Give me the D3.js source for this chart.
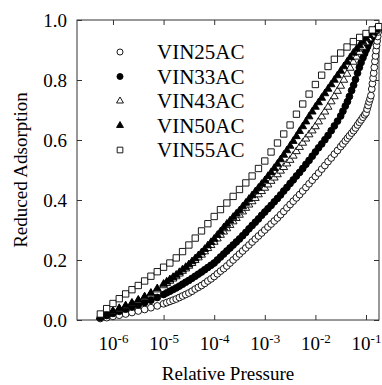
<!DOCTYPE html>
<html>
<head>
<meta charset="utf-8">
<script src="https://cdn.jsdelivr.net/npm/d3@7"></script>
<style>
	body { margin: 0; background: #fff; }
	svg { display: block; font-family: "Liberation Serif", "Times New Roman", serif; }
</style>
</head>
<body>
<svg width="382" height="385"></svg>
<script>
// relative pressure, low range (coarse) and mid range (fine) steps
const pLow = [5.62e-7, 7.5e-7, 1e-6, 1.33e-6, 1.78e-6, 2.37e-6, 3.16e-6, 4.22e-6, 5.62e-6, 7.5e-6];
const pFine = [
	1e-5, 1.155e-5, 1.334e-5, 1.54e-5, 1.778e-5, 2.054e-5, 2.371e-5, 2.738e-5,
	3.162e-5, 3.652e-5, 4.217e-5, 4.87e-5, 5.623e-5, 6.494e-5, 7.499e-5, 8.66e-5,
	1e-4, 1.155e-4, 1.334e-4, 1.54e-4, 1.778e-4, 2.054e-4, 2.371e-4, 2.738e-4,
	3.162e-4, 3.652e-4, 4.217e-4, 4.87e-4, 5.623e-4, 6.494e-4, 7.499e-4, 8.66e-4,
	1e-3, 1.155e-3, 1.334e-3, 1.54e-3, 1.778e-3, 2.054e-3, 2.371e-3, 2.738e-3,
	3.162e-3, 3.652e-3, 4.217e-3, 4.87e-3, 5.623e-3, 6.494e-3, 7.499e-3, 8.66e-3,
	1e-2, 1.155e-2, 1.334e-2, 1.54e-2, 1.778e-2, 2.054e-2, 2.371e-2, 2.738e-2, 3.162e-2];
const pTriTail = [3.65e-2, 4.22e-2, 4.87e-2, 5.62e-2, 6.49e-2, 7.5e-2, 8.66e-2, 0.1, 0.115, 0.133, 0.154, 0.178];
const p33Tail = [0.035, 0.039, 0.043, 0.047, 0.052, 0.057, 0.062, 0.068, 0.074, 0.08, 0.087, 0.094,
	0.101, 0.108, 0.115, 0.123, 0.131, 0.139, 0.147, 0.155, 0.163, 0.171, 0.178];
const p25Tail = [0.035, 0.039, 0.043, 0.047, 0.052, 0.057, 0.062, 0.068, 0.074, 0.08, 0.087, 0.094,
	0.1, 0.105, 0.11, 0.115, 0.12, 0.125, 0.13, 0.134, 0.138, 0.142, 0.146, 0.15, 0.154,
	0.158, 0.162, 0.166, 0.17, 0.174, 0.178];
// squares are spread evenly on the log axis
const p55 = [5.62e-7, 7.5e-7, 1e-6, 1.33e-6, 1.78e-6, 2.37e-6, 3.16e-6, 4.22e-6, 5.62e-6, 7.5e-6,
	1e-5, 1.33e-5, 1.78e-5, 2.37e-5, 3.16e-5, 4.22e-5, 5.62e-5, 7.5e-5, 1e-4, 1.33e-4,
	1.78e-4, 2.37e-4, 3.16e-4, 4.22e-4, 5.62e-4, 7.5e-4, 1e-3, 1.33e-3, 1.78e-3, 2.37e-3,
	3.16e-3, 4.22e-3, 5.62e-3, 7.5e-3, 1e-2, 1.33e-2, 1.78e-2, 2.37e-2, 3.16e-2, 4.22e-2,
	5.62e-2, 7.5e-2, 0.1, 0.133, 0.178];

const p25 = pLow.concat(pFine, p25Tail);
const p33 = pLow.concat(pFine, p33Tail);
const pTri = pLow.concat(pFine, pTriTail);

// reduced adsorption
const v25 = [0.005, 0.008, 0.012, 0.016, 0.02, 0.025, 0.03, 0.035, 0.041, 0.047,
	0.054, 0.058, 0.062, 0.066, 0.07, 0.075, 0.08, 0.085, 0.09, 0.096, 0.103, 0.109, 0.115,
	0.122, 0.13, 0.137, 0.145, 0.154, 0.163, 0.171, 0.18, 0.19, 0.2, 0.21, 0.22,
	0.23, 0.24, 0.25, 0.26, 0.27, 0.28, 0.29, 0.3, 0.31, 0.32, 0.33, 0.34,
	0.351, 0.362, 0.374, 0.385, 0.396, 0.407, 0.418, 0.43, 0.442, 0.454, 0.466, 0.478,
	0.49, 0.503, 0.515, 0.528, 0.54, 0.553, 0.565, 0.578,
	0.587, 0.597, 0.606, 0.614, 0.623, 0.631, 0.64, 0.65, 0.659, 0.667, 0.676, 0.684,
	0.69, 0.703, 0.715, 0.727, 0.737, 0.748, 0.77, 0.788, 0.806, 0.823, 0.842, 0.862,
	0.88, 0.898, 0.915, 0.93, 0.945, 0.96, 0.97];
const v33 = [0.008, 0.015, 0.022, 0.029, 0.036, 0.043, 0.05, 0.058, 0.066, 0.075,
	0.085, 0.0905, 0.096, 0.1015, 0.107, 0.113, 0.1195, 0.126, 0.132, 0.139, 0.146, 0.153, 0.16,
	0.1675, 0.175, 0.1825, 0.19, 0.2, 0.21, 0.22, 0.23, 0.24, 0.25, 0.26, 0.27,
	0.281, 0.292, 0.304, 0.315, 0.326, 0.337, 0.349, 0.36, 0.371, 0.382, 0.394, 0.405,
	0.417, 0.43, 0.442, 0.455, 0.467, 0.48, 0.492, 0.505, 0.519, 0.532, 0.546, 0.56,
	0.574, 0.587, 0.601, 0.615, 0.631, 0.647, 0.663, 0.68,
	0.696, 0.713, 0.728, 0.745, 0.765, 0.783, 0.802, 0.823, 0.842, 0.858, 0.874, 0.888,
	0.901, 0.912, 0.923, 0.933, 0.942, 0.95, 0.958, 0.965, 0.97, 0.974, 0.978];
const v43 = [0.01, 0.019, 0.028, 0.037, 0.046, 0.055, 0.064, 0.075, 0.087, 0.101,
	0.115, 0.1225, 0.13, 0.1375, 0.145, 0.154, 0.163, 0.171, 0.18, 0.189, 0.199, 0.208, 0.217,
	0.228, 0.239, 0.249, 0.26, 0.271, 0.283, 0.294, 0.305, 0.316, 0.328, 0.339, 0.35,
	0.361, 0.373, 0.384, 0.395, 0.406, 0.418, 0.429, 0.44, 0.451, 0.463, 0.474, 0.485,
	0.497, 0.509, 0.521, 0.533, 0.547, 0.562, 0.576, 0.59, 0.604, 0.618, 0.631, 0.645,
	0.661, 0.678, 0.694, 0.71, 0.728, 0.745, 0.763, 0.78,
	0.8, 0.82, 0.84, 0.86, 0.877, 0.893, 0.91, 0.925, 0.938, 0.95, 0.963, 0.975];
const v50 = [0.01, 0.02, 0.03, 0.039, 0.048, 0.057, 0.067, 0.078, 0.09, 0.105,
	0.12, 0.1275, 0.135, 0.1425, 0.15, 0.159, 0.168, 0.176, 0.185, 0.195, 0.205, 0.215, 0.225,
	0.236, 0.248, 0.259, 0.27, 0.283, 0.295, 0.308, 0.32, 0.331, 0.343, 0.354, 0.365,
	0.378, 0.39, 0.403, 0.415, 0.428, 0.44, 0.453, 0.465, 0.479, 0.492, 0.506, 0.52,
	0.535, 0.55, 0.565, 0.58, 0.596, 0.612, 0.629, 0.645, 0.661, 0.678, 0.694, 0.71,
	0.725, 0.74, 0.755, 0.77, 0.785, 0.8, 0.815, 0.83,
	0.845, 0.86, 0.875, 0.89, 0.903, 0.915, 0.928, 0.94, 0.95, 0.958, 0.967, 0.975];
const v55 = [0.02, 0.038, 0.055, 0.071, 0.087, 0.101, 0.115, 0.13, 0.146, 0.161, 0.176, 0.19, 0.207, 0.228,
	0.25, 0.273, 0.297, 0.321, 0.345, 0.368, 0.39, 0.412, 0.435, 0.457, 0.48, 0.505, 0.53, 0.56, 0.59, 0.62,
	0.65, 0.686, 0.72, 0.753, 0.785, 0.816, 0.845, 0.869, 0.89, 0.91, 0.928, 0.942, 0.955, 0.967, 0.978];

const names = ['VIN25AC', 'VIN33AC', 'VIN43AC', 'VIN50AC', 'VIN55AC'];
const xTicks = [1e-6, 1e-5, 1e-4, 1e-3, 1e-2, 1e-1];
const yTicks = [0, 0.2, 0.4, 0.6, 0.8, 1.0];

const series = [
	{ name: names[0], p: p25, v: v25, type: d3.symbolCircle, size: 36, fill: '#fff' },
	{ name: names[1], p: p33, v: v33, type: d3.symbolCircle, size: 36, fill: '#000' },
	{ name: names[2], p: pTri, v: v43, type: d3.symbolTriangle, size: 26, fill: '#fff' },
	{ name: names[3], p: pTri, v: v50, type: d3.symbolTriangle, size: 26, fill: '#000' },
	{ name: names[4], p: p55, v: v55, type: d3.symbolSquare, size: 40, fill: '#fff' },
];

const svg = d3.select('svg');
const margin = { top: 20, right: 3, bottom: 65, left: 77 };
const width = 382 - margin.left - margin.right;
const height = 385 - margin.top - margin.bottom;

const x = d3.scaleLog().domain([1.945e-7, 0.1807]).range([0, width]);
const y = d3.scaleLinear().domain([0, 1]).range([height, 0]);

const g = svg.append('g').attr('transform', `translate(${margin.left},${margin.top})`);

// axes, ticks pointing inward
const xAxis = g.append('g')
	.attr('transform', `translate(0,${height})`)
	.call(d3.axisBottom(x).tickValues(xTicks).tickSizeInner(-5).tickSizeOuter(0).tickPadding(17));
xAxis.selectAll('.tick text').each(function (d) {
	const t = d3.select(this).text(null).attr('font-size', 19);
	t.append('tspan').text('10');
	t.append('tspan').attr('dy', -7).attr('font-size', 13).text(Math.round(Math.log10(d)));
});

g.append('g')
	.call(d3.axisLeft(y).tickValues(yTicks).tickFormat(d3.format('.1f')).tickSizeInner(-5).tickSizeOuter(0).tickPadding(10))
	.selectAll('.tick text').attr('font-size', 19);

g.append('g')
	.call(d3.axisTop(x).tickValues(xTicks).tickSizeInner(-5).tickSizeOuter(0).tickFormat(''));
g.append('g')
	.attr('transform', `translate(${width},0)`)
	.call(d3.axisRight(y).tickValues(yTicks).tickSizeInner(-5).tickSizeOuter(0).tickFormat(''));

// d3 puts sans-serif on axis groups, let the serif font inherit instead
g.selectAll('g').attr('font-family', null);
g.selectAll('.domain').remove();
g.selectAll('.tick line').attr('stroke', '#333');
g.selectAll('.tick text').attr('fill', '#000');

g.append('rect')
	.attr('width', width)
	.attr('height', height)
	.attr('fill', 'none')
	.attr('stroke', '#333');

// data points
series.forEach((s) => {
	g.append('g')
		.selectAll('path')
		.data(s.p.map((p, i) => [p, s.v[i]]))
		.enter()
		.append('path')
		.attr('transform', (d) => `translate(${x(d[0])},${y(d[1])})`)
		.attr('d', d3.symbol().type(s.type).size(s.size))
		.attr('fill', s.fill)
		.attr('stroke', '#000')
		.attr('stroke-width', 0.9);
});

// legend
const legend = g.append('g').attr('transform', 'translate(43,32)');
series.forEach((s, i) => {
	const row = legend.append('g').attr('transform', `translate(0,${i * 24.5})`);
	row.append('path')
		.attr('d', d3.symbol().type(s.type).size(s.size * 0.8))
		.attr('fill', s.fill)
		.attr('stroke', '#000')
		.attr('stroke-width', 0.9);
	row.append('text')
		.attr('x', 37)
		.attr('y', 7)
		.attr('font-size', 21)
		.text(s.name);
});

// axis titles
svg.append('text')
	.attr('x', margin.left + width / 2)
	.attr('y', 380)
	.attr('text-anchor', 'middle')
	.attr('font-size', 19)
	.text('Relative Pressure');

svg.append('text')
	.attr('transform', `translate(27,${margin.top + height / 2}) rotate(-90)`)
	.attr('text-anchor', 'middle')
	.attr('font-size', 19)
	.text('Reduced Adsorption');
</script>
</body>
</html>
